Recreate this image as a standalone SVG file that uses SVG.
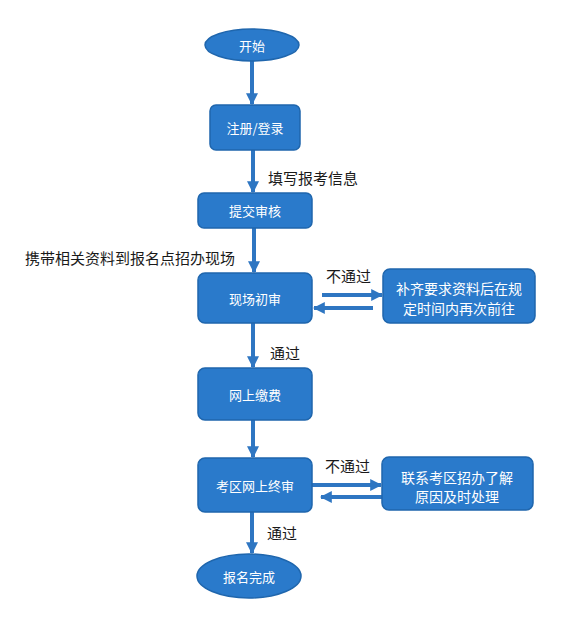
<svg xmlns="http://www.w3.org/2000/svg" width="578" height="617" viewBox="0 0 578 617">
<style>
.box{fill:#2a7acb;stroke:#1f66ad;stroke-width:1.5}
.wt{fill:#ffffff;font-family:"Noto Sans CJK SC","Noto Sans",sans-serif;font-size:13px;text-anchor:middle;dominant-baseline:central}
.bt{fill:#1a1a1a;font-family:"Noto Sans CJK SC","Noto Sans",sans-serif;font-size:15px;dominant-baseline:central}
.ln{stroke:#2e76c2;stroke-width:4;fill:none}
</style>
<defs>
<marker id="ah" viewBox="0 0 10 10" refX="9" refY="5" markerWidth="3" markerHeight="3" orient="auto" markerUnits="strokeWidth">
<path d="M0,0 L10,5 L0,10 Z" fill="#2e76c2"/>
</marker>
</defs>
<rect width="578" height="617" fill="#ffffff"/>
<g id="connectors">
<line class="ln" x1="252" y1="60" x2="252" y2="104" marker-end="url(#ah)"/>
<line class="ln" x1="253" y1="150" x2="253" y2="192" marker-end="url(#ah)"/>
<line class="ln" x1="254" y1="228" x2="254" y2="272" marker-end="url(#ah)"/>
<line class="ln" x1="253" y1="323" x2="253" y2="367" marker-end="url(#ah)"/>
<line class="ln" x1="253" y1="420" x2="253" y2="457" marker-end="url(#ah)"/>
<line class="ln" x1="252" y1="512" x2="252" y2="553" marker-end="url(#ah)"/>
<line class="ln" x1="322" y1="295" x2="382" y2="295" marker-end="url(#ah)"/>
<line class="ln" x1="373" y1="308" x2="314" y2="308" marker-end="url(#ah)"/>
<line class="ln" x1="312" y1="485" x2="381" y2="485" marker-end="url(#ah)"/>
<line class="ln" x1="382" y1="497" x2="321" y2="497" marker-end="url(#ah)"/>
<text class="bt" x="268" y="177">填写报考信息</text>
<text class="bt" x="25" y="257">携带相关资料到报名点招办现场</text>
<text class="bt" x="326" y="275">不通过</text>
<text class="bt" x="270" y="352">通过</text>
<text class="bt" x="325" y="465">不通过</text>
<text class="bt" x="267" y="532">通过</text>
</g>
<g id="start"><ellipse class="box" cx="252" cy="45" rx="47" ry="16"/><text class="wt" x="252" y="45">开始</text></g>
<g id="register"><rect class="box" x="210" y="105" width="90" height="45" rx="6"/><text class="wt" x="255" y="127">注册/登录</text></g>
<g id="submit"><rect class="box" x="198" y="193" width="114" height="35" rx="6"/><text class="wt" x="255" y="210">提交审核</text></g>
<g id="onsite"><rect class="box" x="198" y="273" width="114" height="50" rx="7"/><text class="wt" x="255" y="298">现场初审</text></g>
<g id="supplement"><rect class="box" x="383" y="269" width="152" height="54" rx="7"/><text class="wt" x="459" y="288" style="font-size:14px">补齐要求资料后在规</text><text class="wt" x="459" y="308" style="font-size:14px">定时间内再次前往</text></g>
<g id="pay"><rect class="box" x="198" y="368" width="114" height="52" rx="7"/><text class="wt" x="255" y="394">网上缴费</text></g>
<g id="final"><rect class="box" x="198" y="458" width="114" height="54" rx="7"/><text class="wt" x="255" y="485">考区网上终审</text></g>
<g id="contact"><rect class="box" x="382" y="457" width="151" height="53" rx="7"/><text class="wt" x="457" y="477" style="font-size:14px">联系考区招办了解</text><text class="wt" x="457" y="496" style="font-size:14px">原因及时处理</text></g>
<g id="done"><ellipse class="box" cx="249" cy="576" rx="52" ry="22"/><text class="wt" x="249" y="576">报名完成</text></g>
</svg>
